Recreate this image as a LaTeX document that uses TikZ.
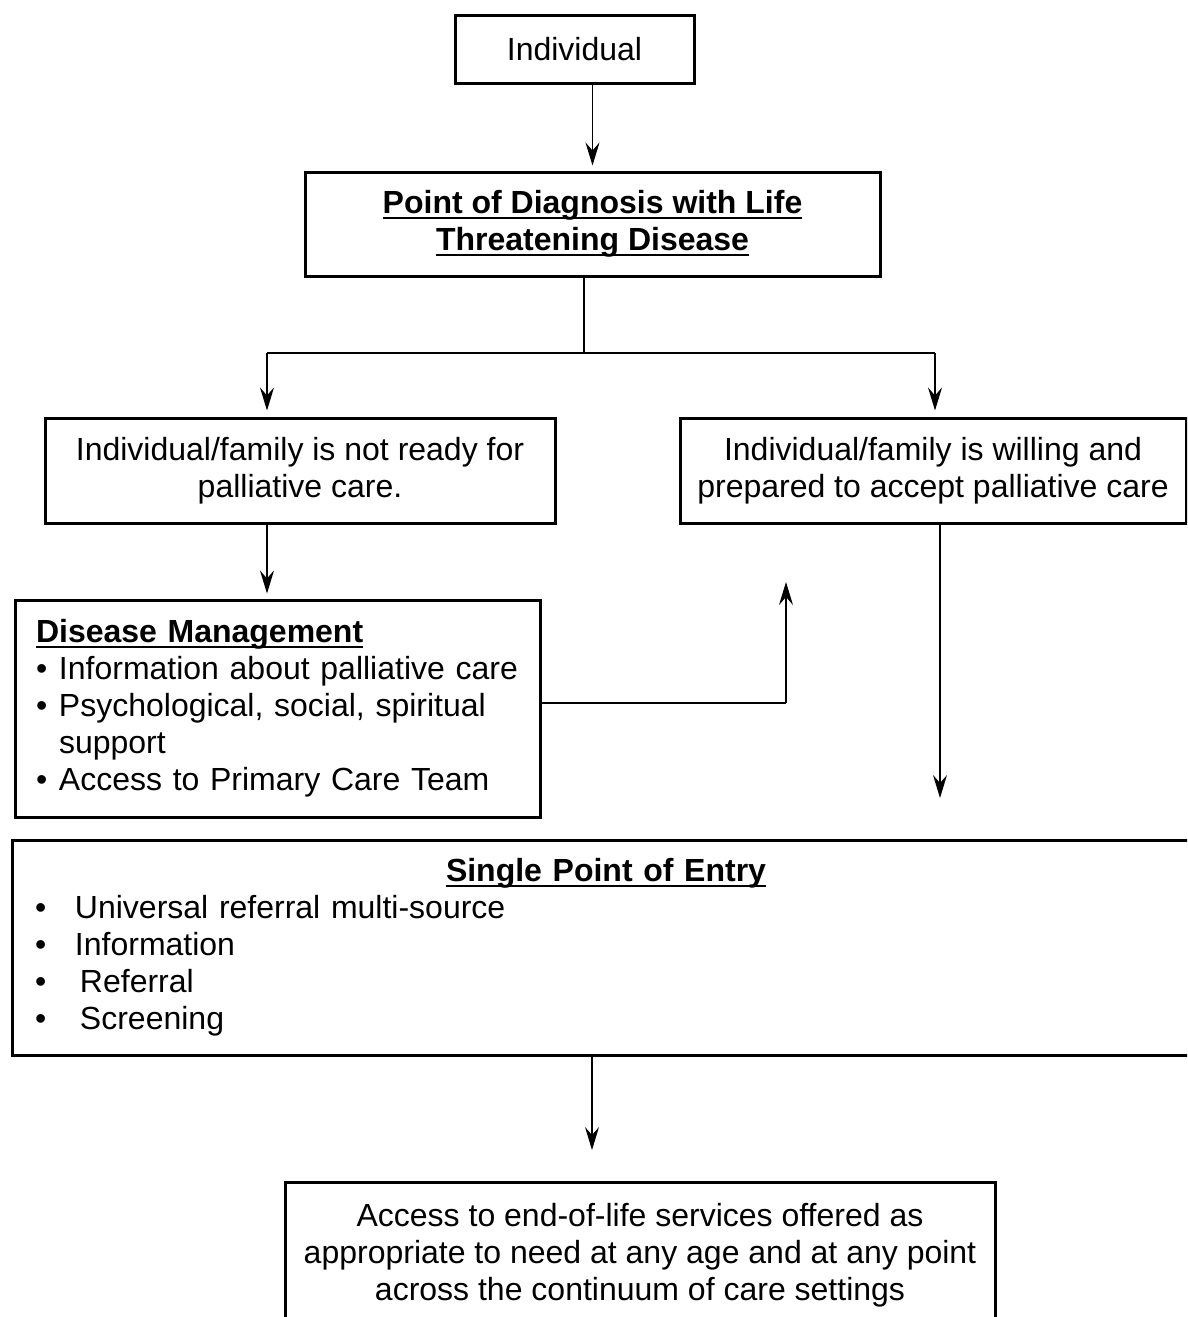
\documentclass[tikz,border=0pt]{standalone}
\usepackage{fontspec}
\setmainfont{Liberation Sans}
\usetikzlibrary{arrows.meta,positioning,calc}

\newcommand{\ulhead}[1]{\setbox0\hbox{\textbf{#1}}\rlap{\rule[-5pt]{\wd0}{2.2pt}}\box0}
\newcommand{\bul}[1][23pt]{\makebox[#1][l]{\textbullet}}

\tikzset{
  box/.style={draw, line width=3pt, align=center, inner sep=0pt,
    font=\fontsize{32}{37}\selectfont},
  link/.style={line width=1.3pt},
  arrowlink/.style={link, -{Stealth[length=23pt,width=14pt,inset=8pt]}}
}

\begin{document}
\begin{tikzpicture}[x=1pt, y=-1pt]
  \useasboundingbox (0,0) rectangle (1187,1317);
  \clip (0,0) rectangle (1187,1317);

  % Boxes
  \node[box, minimum width=239pt, minimum height=68pt] (indiv) at (574.5,49) {Individual};
  \node[box, minimum width=575pt, minimum height=104pt] (diag) at (592.5,224)
    {\ulhead{Point of Diagnosis with Life}\\ \ulhead{Threatening Disease}};
  \node[box, minimum width=510pt, minimum height=105pt] (notready) at (300,470.5)
    {Individual/family is not ready for\\ palliative care.};
  \node[box, minimum width=506pt, minimum height=105pt] (willing) at (933,470.5)
    {Individual/family is willing and\\ prepared to accept palliative care};
  \node[box, minimum width=525pt, minimum height=217pt, text width=483pt, align=left] (dm) at (277.5,708.5)
    {\ulhead{Disease Management}\\
     \bul Information about palliative care\\
     \bul Psychological, social, spiritual\\
     \hspace*{23pt}support\\
     \bul Access to Primary Care Team};
  \node[box, minimum width=1188pt, minimum height=215pt, text width=1142pt, align=left] (spe) at (606,947.5)
    {\null\hfill\ulhead{Single Point of Entry}\hfill\null\\
     \bul[40pt]Universal referral multi-source\\
     \bul[40pt]Information\\
     \bul[45pt]Referral\\
     \bul[45pt]Screening};
  \node[box, minimum width=710pt, minimum height=146pt] (final) at (640,1255)
    {Access to end-of-life services offered as\\
     appropriate to need at any age and at any point\\
     across the continuum of care settings};

  % Split points
  \coordinate (split) at (584,353);
  \coordinate (lsplit) at (267,353);
  \coordinate (rsplit) at (935,353);
  \coordinate (bend) at (786,703);
  \coordinate (uptip) at (786,582);
  \coordinate (wtip) at (940,798);
  \coordinate (ftip) at (592,1150);

  % Connectors
  \draw[arrowlink, shorten >=5pt] (diag.north |- indiv.south) -- (diag.north);
  \draw[link] (split |- diag.south) -- (split);
  \draw[link] (lsplit) -- (rsplit);
  \draw[arrowlink, shorten >=6pt] (lsplit) -- (lsplit |- notready.north);
  \draw[arrowlink, shorten >=6pt] (rsplit) -- (rsplit |- willing.north);
  \draw[arrowlink, shorten >=5pt] (lsplit |- notready.south) -- (lsplit |- dm.north);
  \draw[link] (dm.east |- bend) -- (bend);
  \draw[arrowlink] (bend) -- (uptip);
  \draw[arrowlink] (wtip |- willing.south) -- (wtip);
  \draw[arrowlink] (ftip |- spe.south) -- (ftip);
\end{tikzpicture}
\end{document}
